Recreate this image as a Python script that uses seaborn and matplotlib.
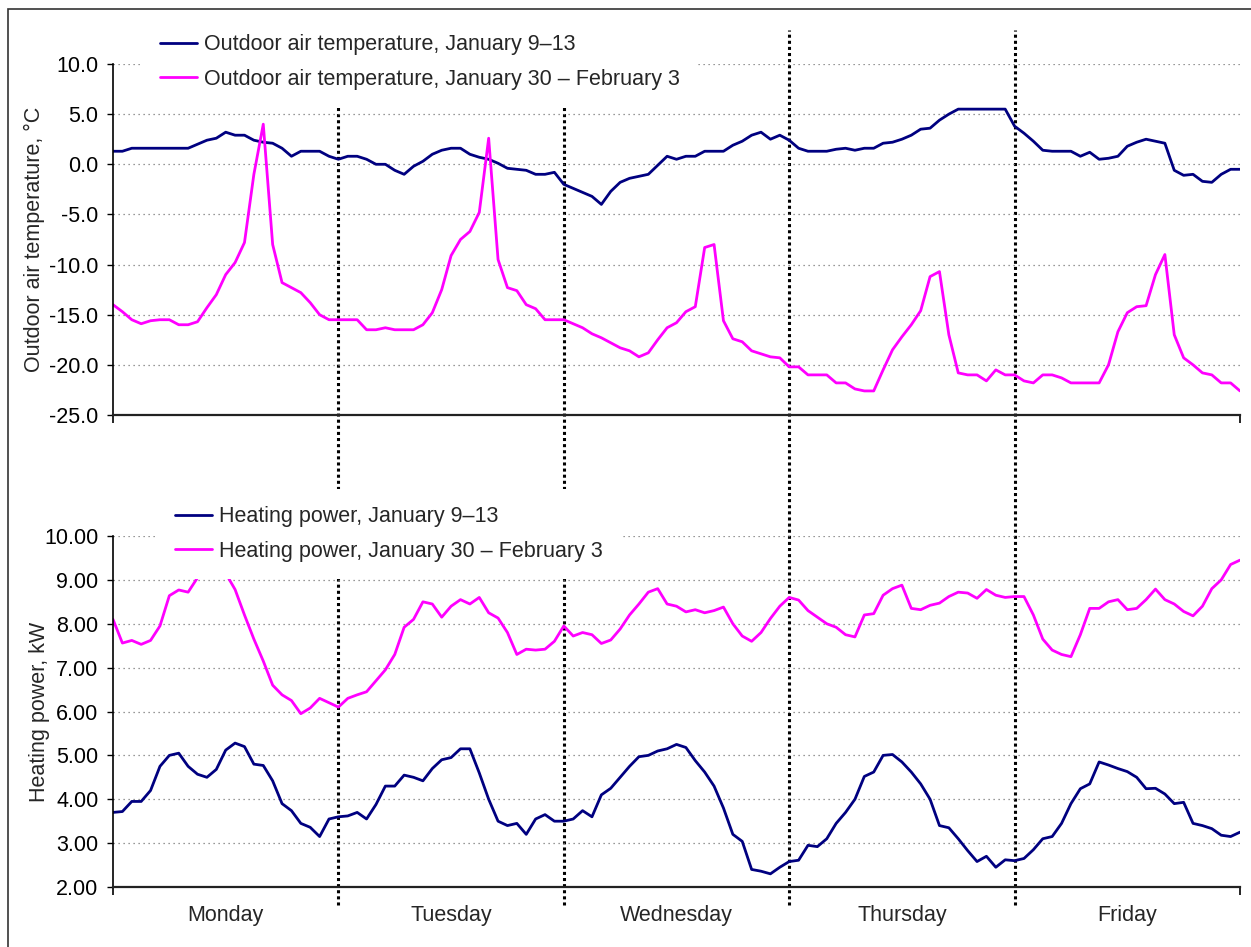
import numpy as np
import pandas as pd
import matplotlib
matplotlib.use("Agg")
import matplotlib.pyplot as plt
import matplotlib.ticker as mticker
from matplotlib.lines import Line2D
from matplotlib.patches import Rectangle
from matplotlib.transforms import blended_transform_factory
import seaborn as sns

# hourly readings, Monday 00:00 .. Friday 24:00
hours = np.arange(121)
day_names = ["Monday", "Tuesday", "Wednesday", "Thursday", "Friday"]
day_bounds = [1, 2, 3, 4]

temp_jan9 = [
    1.3, 1.3, 1.6, 1.6, 1.6, 1.6, 1.6, 1.6, 1.6, 2.0, 2.4, 2.6, 3.2, 2.9, 2.9, 2.4,
    2.2, 2.1, 1.6, 0.8, 1.3, 1.3, 1.3, 0.8, 0.5, 0.8, 0.8, 0.5, 0.0, 0.0, -0.6, -1.0,
    -0.2, 0.3, 1.0, 1.4, 1.6, 1.6, 1.0, 0.7, 0.5, 0.1, -0.4, -0.5, -0.6, -1.0, -1.0, -0.8,
    -2.0, -2.4, -2.8, -3.2, -4.0, -2.7, -1.8, -1.4, -1.2, -1.0, -0.1, 0.8, 0.5, 0.8, 0.8, 1.3,
    1.3, 1.3, 1.9, 2.3, 2.9, 3.2, 2.5, 2.9, 2.4, 1.6, 1.3, 1.3, 1.3, 1.5, 1.6, 1.4,
    1.6, 1.6, 2.1, 2.2, 2.5, 2.9, 3.5, 3.6, 4.4, 5.0, 5.5, 5.5, 5.5, 5.5, 5.5, 5.5,
    3.8, 3.1, 2.3, 1.4, 1.3, 1.3, 1.3, 0.8, 1.2, 0.5, 0.6, 0.8, 1.8, 2.2, 2.5, 2.3,
    2.1, -0.6, -1.1, -1.0, -1.7, -1.8, -1.0, -0.5, -0.5,
]
temp_jan30 = [
    -14.0, -14.7, -15.5, -15.9, -15.6, -15.5, -15.5, -16.0, -16.0, -15.7, -14.3, -13.0, -11.0, -9.8, -7.8, -1.0,
    4.0, -8.0, -11.8, -12.3, -12.8, -13.8, -15.0, -15.5, -15.5, -15.5, -15.5, -16.5, -16.5, -16.3, -16.5, -16.5,
    -16.5, -16.0, -14.8, -12.5, -9.1, -7.5, -6.7, -4.8, 2.6, -9.5, -12.3, -12.6, -14.0, -14.4, -15.5, -15.5,
    -15.5, -15.9, -16.3, -16.9, -17.3, -17.8, -18.3, -18.6, -19.2, -18.8, -17.5, -16.3, -15.8, -14.7, -14.2, -8.3,
    -8.0, -15.6, -17.4, -17.7, -18.6, -18.9, -19.2, -19.3, -20.2, -20.2, -21.0, -21.0, -21.0, -21.8, -21.8, -22.4,
    -22.6, -22.6, -20.5, -18.5, -17.2, -16.0, -14.6, -11.2, -10.7, -17.0, -20.8, -21.0, -21.0, -21.6, -20.5, -21.0,
    -21.0, -21.6, -21.8, -21.0, -21.0, -21.3, -21.8, -21.8, -21.8, -21.8, -20.0, -16.7, -14.8, -14.2, -14.1, -11.0,
    -9.0, -17.0, -19.3, -20.0, -20.8, -21.0, -21.8, -21.8, -22.6,
]
power_jan9 = [
    3.70, 3.72, 3.95, 3.95, 4.20, 4.75, 5.00, 5.05, 4.75, 4.57, 4.50, 4.68, 5.12, 5.28, 5.20, 4.80,
    4.77, 4.42, 3.90, 3.74, 3.45, 3.36, 3.15, 3.55, 3.60, 3.62, 3.70, 3.55, 3.88, 4.30, 4.30, 4.55,
    4.50, 4.42, 4.70, 4.90, 4.95, 5.15, 5.15, 4.60, 4.00, 3.50, 3.40, 3.45, 3.20, 3.55, 3.65, 3.50,
    3.50, 3.55, 3.74, 3.60, 4.10, 4.25, 4.50, 4.75, 4.97, 5.00, 5.10, 5.15, 5.25, 5.18, 4.88, 4.62,
    4.30, 3.80, 3.20, 3.04, 2.40, 2.36, 2.30, 2.45, 2.58, 2.61, 2.95, 2.92, 3.10, 3.45, 3.70, 4.00,
    4.52, 4.62, 5.00, 5.02, 4.85, 4.62, 4.35, 4.00, 3.40, 3.35, 3.10, 2.83, 2.58, 2.70, 2.45, 2.62,
    2.60, 2.65, 2.85, 3.10, 3.15, 3.45, 3.90, 4.24, 4.35, 4.85, 4.78, 4.70, 4.63, 4.50, 4.24, 4.25,
    4.12, 3.90, 3.93, 3.45, 3.40, 3.33, 3.18, 3.15, 3.25,
]
power_jan30 = [
    8.10, 7.56, 7.62, 7.53, 7.62, 7.95, 8.64, 8.77, 8.72, 9.05, 9.08, 9.20, 9.15, 8.78, 8.20, 7.65,
    7.15, 6.60, 6.38, 6.25, 5.95, 6.08, 6.30, 6.20, 6.10, 6.30, 6.38, 6.45, 6.70, 6.95, 7.30, 7.92,
    8.10, 8.50, 8.45, 8.15, 8.40, 8.55, 8.45, 8.60, 8.25, 8.13, 7.80, 7.30, 7.42, 7.40, 7.42, 7.60,
    7.95, 7.72, 7.80, 7.75, 7.55, 7.63, 7.88, 8.20, 8.45, 8.72, 8.80, 8.45, 8.40, 8.27, 8.32, 8.25,
    8.30, 8.38, 8.00, 7.72, 7.60, 7.80, 8.12, 8.40, 8.60, 8.54, 8.30, 8.15, 8.00, 7.92, 7.75, 7.70,
    8.20, 8.23, 8.65, 8.80, 8.88, 8.35, 8.32, 8.42, 8.47, 8.62, 8.72, 8.70, 8.58, 8.78, 8.65, 8.60,
    8.62, 8.62, 8.20, 7.65, 7.40, 7.30, 7.25, 7.75, 8.35, 8.35, 8.50, 8.55, 8.32, 8.35, 8.55, 8.79,
    8.55, 8.45, 8.28, 8.18, 8.40, 8.80, 9.00, 9.35, 9.45,
]

sns.set_theme(style="ticks")
plt.rcParams["font.family"] = ["Liberation Sans", "DejaVu Sans"]
plt.rcParams["axes.unicode_minus"] = False

W, H = 1251, 947
FS = 15.5
NAVY, MAGENTA = "#000080", "#FF00FF"

df = pd.DataFrame({"day": hours / 24, "t9": temp_jan9, "t30": temp_jan30,
                   "p9": power_jan9, "p30": power_jan30})

fig = plt.figure(figsize=(W / 100, H / 100), dpi=100)
ax1 = fig.add_axes([113 / W, 1 - 415 / H, 1127 / W, 351 / H])
ax2 = fig.add_axes([113 / W, 1 - 887 / H, 1127 / W, 351 / H])

sns.lineplot(data=df, x="day", y="t9", color=NAVY, lw=2, ax=ax1,
             label="Outdoor air temperature, January 9\u201313")
sns.lineplot(data=df, x="day", y="t30", color=MAGENTA, lw=2, ax=ax1,
             label="Outdoor air temperature, January 30 \u2013 February 3")
sns.lineplot(data=df, x="day", y="p9", color=NAVY, lw=2, ax=ax2,
             label="Heating power, January 9\u201313")
sns.lineplot(data=df, x="day", y="p30", color=MAGENTA, lw=2, ax=ax2,
             label="Heating power, January 30 \u2013 February 3")

ax1.set_ylim(-25, 10)
ax1.yaxis.set_major_locator(mticker.MultipleLocator(5))
ax1.yaxis.set_major_formatter(mticker.FormatStrFormatter("%.1f"))
ax2.set_ylim(2, 10)
ax2.yaxis.set_major_locator(mticker.MultipleLocator(1))
ax2.yaxis.set_major_formatter(mticker.FormatStrFormatter("%.2f"))

for ax in (ax1, ax2):
    ax.set_facecolor("none")
    ax.set_xlim(0, len(day_names))
    ax.set_xticks([0, len(day_names)])
    ax.set_xticklabels([])
    ax.set_xlabel("")
    ax.yaxis.grid(True, linestyle=(0, (1, 3)), color="#777777", lw=0.9)
    ax.tick_params(axis="y", direction="out", length=4.5, width=1, color="black",
                   labelsize=FS, pad=6, labelcolor="black")
    ax.tick_params(axis="x", which="major", direction="out", length=6, width=1.2, color="black")
    sns.despine(ax=ax)
    ax.spines["left"].set_color("black")
    ax.spines["left"].set_linewidth(1.2)
    ax.spines["bottom"].set_color("#222222")
    ax.spines["bottom"].set_linewidth(1.6)

ax2.set_xticks(np.arange(len(day_names)) + 0.5, minor=True)
ax2.set_xticklabels(day_names, minor=True, fontsize=FS)
ax2.tick_params(axis="x", which="minor", length=0, pad=13)

ax1.set_ylabel("Outdoor air temperature, \u00b0C", fontsize=FS)
ax1.yaxis.set_label_coords(-0.0603, 0.5)
ax2.set_ylabel("Heating power, kW", fontsize=FS)
ax2.yaxis.set_label_coords(-0.0559, 0.5)

leg_kw = dict(loc="upper left", bbox_transform=fig.transFigure, frameon=True,
              facecolor="white", edgecolor="none", framealpha=1, fancybox=False,
              borderpad=0.8, handlelength=1.7, handletextpad=0.35,
              labelspacing=0.64, borderaxespad=0, fontsize=FS)
ax1.legend(bbox_to_anchor=(143 / W, 1 - 17 / H), **leg_kw)
ax2.legend(bbox_to_anchor=(158 / W, 1 - 489 / H), **leg_kw)

# day boundaries, drawn under both panels; the legends mask them
trans = blended_transform_factory(ax2.transData, fig.transFigure)
for d in day_bounds:
    fig.add_artist(Line2D([d, d], [1 - 905 / H, 1 - 30 / H], transform=trans,
                          color="black", lw=2.2, linestyle=(0, (1, 1)), zorder=-1))

# outer frame
fig.add_artist(Rectangle((8 / W, -0.05), 1.2, 1.05 - 9 / H, transform=fig.transFigure,
                         fill=False, edgecolor="#333333", lw=1.2, zorder=-2))

fig.savefig("out.png", dpi=100)
